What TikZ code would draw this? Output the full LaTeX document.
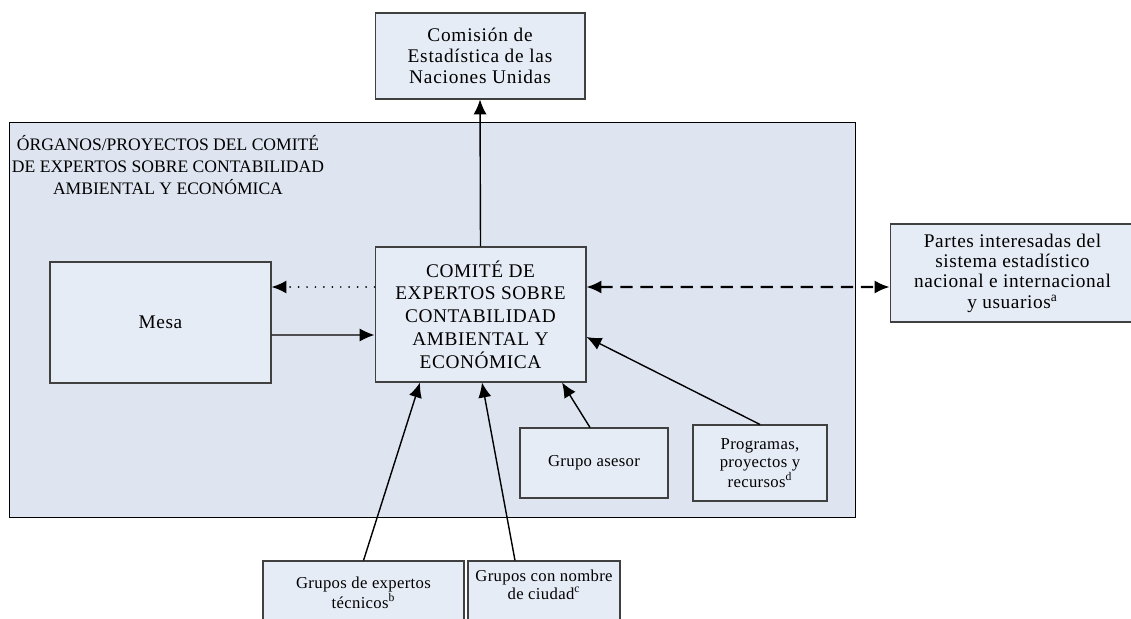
\documentclass[tikz,border=0pt]{standalone}
\usepackage{fontspec}
\setmainfont{Liberation Serif}
\usetikzlibrary{arrows.meta,positioning}
\definecolor{boxfill}{RGB}{230,236,246}
\definecolor{framefill}{RGB}{222,229,240}
\definecolor{boxline}{RGB}{64,64,64}

\begin{document}
\begin{tikzpicture}[x=0.02cm, y=-0.02cm, >={Latex[length=8.5pt,width=7.5pt]},
   box/.style={draw=boxline, line width=0.6pt, fill=boxfill, align=center, inner sep=2pt},
   bigfont/.style={font=\fontsize{11}{13}\selectfont\addfontfeature{LetterSpace=3}},
   smallfont/.style={font=\fontsize{9.5}{10.3}\selectfont\addfontfeature{LetterSpace=2}},
   link/.style={->, line width=0.8pt}]

   \useasboundingbox (0,0) rectangle (1131,618);

   % frame of the committee
   \node[draw=black, line width=0.6pt, fill=framefill, minimum width=16.94cm, minimum height=7.92cm] (organos) at (432.5,320) {};
   \node[align=center, font=\fontsize{10}{12.5}\selectfont] (titulo) at (168,165) {ÓRGANOS/PROYECTOS DEL COMITÉ\\DE EXPERTOS SOBRE CONTABILIDAD\\AMBIENTAL Y ECONÓMICA};

   \node[box, bigfont, font=\fontsize{11}{12}\selectfont\addfontfeature{LetterSpace=4}, minimum width=4.2cm, minimum height=1.72cm] (comision) at (480,56) {Comisión de\\Estadística de las\\Naciones Unidas};
   \node[box, bigfont, minimum width=4.22cm, minimum height=2.7cm] (comite) at (480.5,314.5) {COMITÉ DE\\EXPERTOS SOBRE\\CONTABILIDAD\\AMBIENTAL Y\\ECONÓMICA};
   \node[box, bigfont, minimum width=4.42cm, minimum height=2.42cm] (mesa) at (160.5,322.5) {Mesa};
   \node[box, bigfont, font=\fontsize{11}{11.6}\selectfont\addfontfeature{LetterSpace=3}, minimum width=4.9cm, minimum height=1.96cm] (partes) at (1012.5,273) {Partes interesadas del\\sistema estadístico\\nacional e internacional\\y usuarios\textsuperscript{a}};
   \node[box, smallfont, minimum width=2.96cm, minimum height=1.4cm] (asesor) at (594,463) {Grupo asesor};
   \node[box, smallfont, minimum width=2.68cm, minimum height=1.52cm] (programas) at (760,463) {Programas,\\proyectos y\\recursos\textsuperscript{d}};

   % boxes cut by the lower edge
   \node[box, minimum width=4.02cm, minimum height=1.8cm] (expertos) at (363.5,606) {};
   \node[smallfont, align=center, below=0.2cm of expertos.north] (expertostxt) {Grupos de expertos\\técnicos\textsuperscript{b}};
   \node[box, minimum width=3.04cm, minimum height=1.8cm] (nombre) at (544,606) {};
   \node[smallfont, align=center, below=0.06cm of nombre.north] (nombretxt) {Grupos con nombre\\de ciudad\textsuperscript{c}};

   \draw[link] (comite.north) -- (comision.south);
   \draw[link, line width=1.1pt, dash pattern=on 0pt off 4.8pt, line cap=round] ([yshift=0.55cm]comite.west) -- ([yshift=0.71cm]mesa.east);
   \draw[link] ([yshift=-0.25cm]mesa.east) -- ([yshift=-0.41cm]comite.west);
   \draw[<->, line width=1.2pt, dash pattern=on 7pt off 4.4pt] ([yshift=0.55cm]comite.east) -- ([yshift=-0.28cm]partes.west);
   \draw[link] (programas.north) -- ([yshift=-0.45cm]comite.east);
   \draw[link] ([xshift=-0.08cm]asesor.north) -- ([xshift=1.63cm]comite.south);
   \draw[link] (expertos.north) -- ([xshift=-1.21cm]comite.south);
   \draw[link] ([xshift=-0.58cm]nombre.north) -- ([xshift=0.03cm]comite.south);
\end{tikzpicture}
\end{document}
